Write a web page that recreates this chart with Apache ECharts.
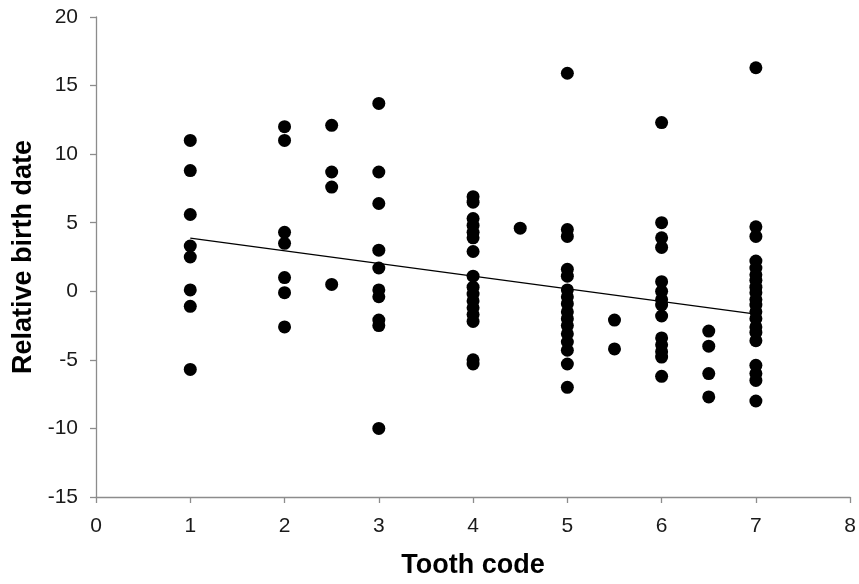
<!DOCTYPE html>
<html>
<head>
<meta charset="utf-8">
<script src="https://cdn.jsdelivr.net/npm/echarts@6/dist/echarts.min.js"></script>
<style>
  html, body { margin: 0; padding: 0; background: #fff; }
  #chart { width: 859px; height: 584px; }
</style>
</head>
<body>
<div id="chart"></div>
<script>
// tooth code groups and the birth dates
const toothCodes = [1, 2, 2.5, 3, 4, 4.5, 5, 5.5, 6, 6.5, 7];
const birthDates = [
  [11.0, 8.8, 5.6, 3.3, 2.5, 0.1, -1.1, -5.7],
  [12.0, 11.0, 4.3, 3.5, 1.0, -0.1, -2.6],
  [12.1, 8.7, 7.6, 0.5],
  [13.7, 8.7, 6.4, 3.0, 1.7, 0.1, -0.4, -2.1, -2.5, -10.0],
  [6.9, 6.5, 5.3, 4.8, 4.3, 3.9, 2.9, 1.1, 0.3, -0.2, -0.7, -1.2, -1.7, -2.2, -5.0, -5.3],
  [4.6],
  [15.9, 4.5, 4.0, 1.6, 1.1, 0.1, -0.4, -0.9, -1.5, -2.0, -2.5, -3.1, -3.7, -4.3, -5.3, -7.0],
  [-2.1, -4.2],
  [12.3, 5.0, 3.9, 3.2, 0.7, 0.0, -0.6, -1.0, -1.8, -3.4, -3.9, -4.4, -4.8, -6.2],
  [-2.9, -4.0, -6.0, -7.7],
  [16.3, 4.7, 4.0, 2.2, 1.7, 1.2, 0.8, 0.3, -0.1, -0.6, -1.0, -1.5, -2.0, -2.6, -3.0, -3.6, -5.4, -6.0, -6.5, -8.0]
];
// trend line end points
const trendX = [1, 7];
const trendY = [3.87, -1.66];

const points = [];
toothCodes.forEach((t, i) => {
  birthDates[i].forEach((v) => points.push([t, v]));
});

const axisGrey = "#8c8c8c";
const font = "Liberation Sans, Arial, sans-serif";

const chart = echarts.init(document.getElementById("chart"));
chart.setOption({
  animation: false,
  backgroundColor: "#fff",
  grid: { left: 96, right: 1, top: 17, bottom: 79, containLabel: false },
  xAxis: {
    type: "value",
    min: 0,
    max: 8,
    interval: 1,
    name: "Tooth code",
    nameLocation: "middle",
    nameGap: 55,
    nameTextStyle: { fontFamily: font, fontWeight: "bold", fontSize: 27, color: "#000" },
    axisLine: { show: true, onZero: false, lineStyle: { color: axisGrey, width: 1.3 } },
    axisTick: { show: true, length: 6, lineStyle: { color: axisGrey, width: 1.3 } },
    axisLabel: { fontFamily: font, fontSize: 21, color: "#1a1a1a", margin: 19 },
    splitLine: { show: false }
  },
  yAxis: {
    type: "value",
    min: -15,
    max: 20,
    interval: 5,
    name: "Relative birth date",
    nameLocation: "middle",
    nameGap: 49,
    nameTextStyle: { fontFamily: font, fontWeight: "bold", fontSize: 27, color: "#000" },
    axisLine: { show: true, onZero: false, lineStyle: { color: axisGrey, width: 1.3 } },
    axisTick: { show: true, length: 6, lineStyle: { color: axisGrey, width: 1.3 } },
    axisLabel: { fontFamily: font, fontSize: 21, color: "#1a1a1a", margin: 18 },
    splitLine: { show: false }
  },
  series: [
    {
      type: "scatter",
      data: points,
      symbol: "circle",
      symbolSize: 13,
      itemStyle: { color: "#000", opacity: 1 },
      z: 2
    },
    {
      type: "line",
      data: trendX.map((x, i) => [x, trendY[i]]),
      showSymbol: false,
      lineStyle: { color: "#000", width: 1.3 },
      z: 3
    }
  ]
});
</script>
</body>
</html>
